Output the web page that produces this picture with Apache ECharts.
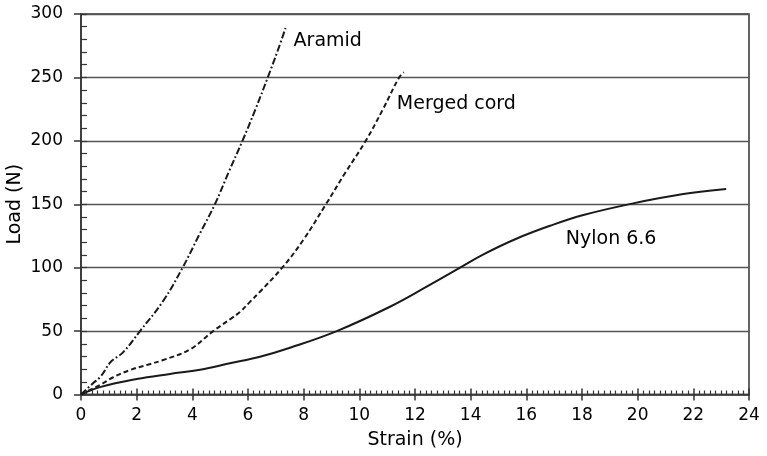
<!DOCTYPE html>
<html>
<head>
<meta charset="utf-8">
<script src="https://cdn.jsdelivr.net/npm/echarts@6/dist/echarts.min.js"></script>
<style>html,body{margin:0;padding:0;background:#fff;}#c{width:767px;height:456px;}</style>
</head>
<body>
<div id="c"></div>
<script>
var seriesNames = ['Aramid', 'Merged cord', 'Nylon 6.6'];
var aramid = [[0,0],[0.44,9],[0.7,14],[1.08,26],[1.5,33],[2.12,50],[2.96,74],[3.65,100],[4.25,126],[4.81,150],[5.3,175],[5.8,200],[6.27,225],[6.71,250],[7.05,270],[7.35,289]];
var merged = [[0,0],[0.68,7.5],[1.16,13.6],[1.76,19.3],[2.4,23.5],[2.96,27.2],[3.92,35.6],[4.75,50],[5.4,60],[5.71,65],[6.07,73],[6.43,81],[7.23,100],[7.99,122],[8.8,150],[9.5,175],[10.23,200],[10.85,225],[11.43,250],[11.6,254]];
var nylon = [[0,0],[0.68,5.8],[2.0,12.2],[3.2,16.2],[4.28,19.5],[5.35,24.6],[6.43,29.8],[7.51,36.9],[9.19,50],[11.1,69.2],[12.42,85],[13.62,100],[14.46,110.5],[15.66,123],[16.85,133],[18.05,141.5],[19.8,150.5],[21.64,158],[23.18,162]];
var labelCoords = [[7.62,279],[11.33,229],[17.4,122.6]];
var xTicks = [0,2,4,6,8,10,12,14,16,18,20,22,24];
var yTicks = [0,50,100,150,200,250,300];

var FONT = 'DejaVu Sans';
var ink = '#000';
var chart = echarts.init(document.getElementById('c'));

var labelData = labelCoords.map(function (c, i) {
  return {value: c, name: seriesNames[i]};
});

var axCommonX = {type: 'value', min: xTicks[0], max: xTicks[xTicks.length-1], interval: 2, position: 'bottom'};
var axCommonY = {type: 'value', min: yTicks[0], max: yTicks[yTicks.length-1], interval: 50, position: 'left'};

chart.setOption({
  animation: false,
  grid: {left: 81, right: 18, top: 14, bottom: 61.5, containLabel: false, outerBoundsMode: 'none',
    show: true, borderColor: '#333', borderWidth: 1.5, backgroundColor: 'transparent'},
  xAxis: [
    Object.assign({}, axCommonX, {
      name: 'Strain (%)', nameLocation: 'middle', nameGap: 36, nameMoveOverlap: false,
      nameTextStyle: {color: ink, fontFamily: FONT, fontSize: 19},
      axisLine: {show: true, lineStyle: {color: '#333', width: 1.5}},
      axisTick: {show: true, inside: false, length: 6, lineStyle: {color: '#333', width: 1.5}},
      minorTick: {show: false},
      axisLabel: {color: ink, fontFamily: FONT, fontSize: 17, margin: 13},
      splitLine: {show: false}
    }),
    Object.assign({}, axCommonX, {
      axisLine: {show: false},
      axisTick: {show: true, inside: true, length: 6, lineStyle: {color: '#333', width: 1.5}},
      minorTick: {show: true, splitNumber: 10, length: 4, lineStyle: {color: '#333', width: 1.2}},
      axisLabel: {show: false},
      splitLine: {show: false}
    })
  ],
  yAxis: [
    Object.assign({}, axCommonY, {
      name: 'Load (N)', nameLocation: 'middle', nameGap: 56, nameMoveOverlap: false,
      nameTextStyle: {color: ink, fontFamily: FONT, fontSize: 19},
      axisLine: {show: true, lineStyle: {color: '#333', width: 1.5}},
      axisTick: {show: true, inside: false, length: 7, lineStyle: {color: '#333', width: 1.5}},
      minorTick: {show: false},
      axisLabel: {color: ink, fontFamily: FONT, fontSize: 17, margin: 18},
      splitLine: {show: true, lineStyle: {color: '#555', width: 1.3}}
    }),
    Object.assign({}, axCommonY, {
      axisLine: {show: false},
      axisTick: {show: true, inside: true, length: 6, lineStyle: {color: '#333', width: 1.2}},
      minorTick: {show: true, splitNumber: 5, length: 6, lineStyle: {color: '#333', width: 1.2}},
      axisLabel: {show: false},
      splitLine: {show: false}
    })
  ],
  series: [
    {name: seriesNames[0], type: 'line', data: aramid, showSymbol: false, smooth: 0.4,
      lineStyle: {color: '#1a1a1a', width: 2, type: [7, 2.5, 1.8, 2.5]}},
    {name: seriesNames[1], type: 'line', data: merged, showSymbol: false, smooth: 0.4,
      lineStyle: {color: '#1a1a1a', width: 2, type: [5, 3]}},
    {name: seriesNames[2], type: 'line', data: nylon, showSymbol: false, smooth: 0.4,
      lineStyle: {color: '#1a1a1a', width: 2}},
    {name: 'labels', type: 'scatter', data: labelData, symbol: 'circle', symbolSize: 1, silent: true,
      itemStyle: {color: '#fff', opacity: 1},
      label: {show: true, position: 'right', distance: 0, formatter: '{b}', opacity: 1,
        color: ink, fontFamily: FONT, fontSize: 19}}
  ]
});
</script>
</body>
</html>
